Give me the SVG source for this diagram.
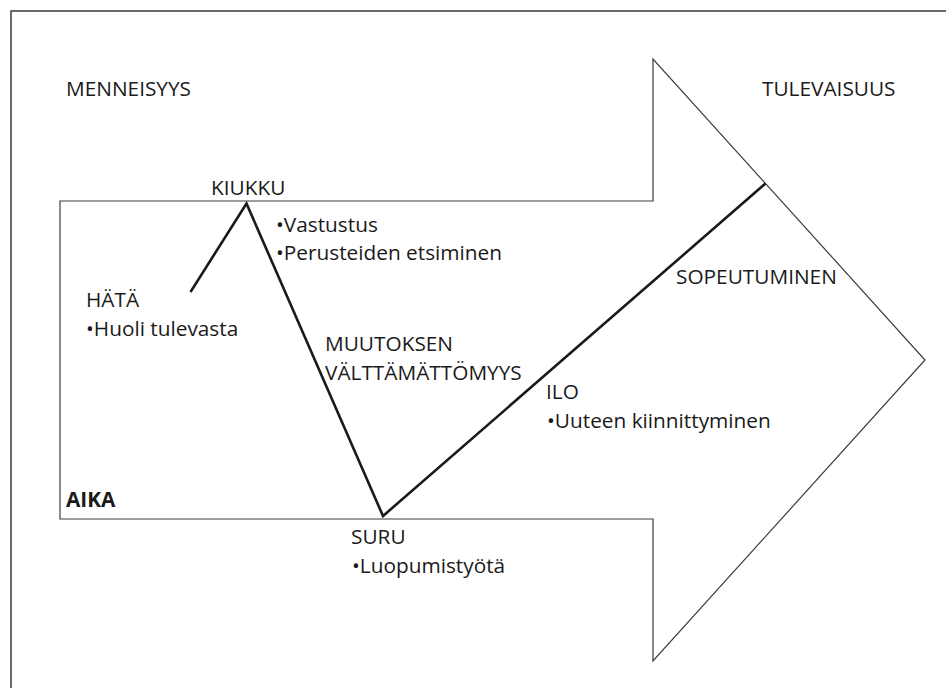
<svg xmlns="http://www.w3.org/2000/svg" width="946" height="688" viewBox="0 0 946 688">
  <style>
    .lbl { font-family: "Open Sans", "Liberation Sans", sans-serif; font-size: 20.8px; fill: #1a1a1a; }
    .bold { font-weight: bold; }
    .frame { stroke: #3a3a3a; stroke-width: 1.5; fill: none; }
    .arrow { stroke: #3c3c3c; stroke-width: 1.2; fill: #ffffff; stroke-linejoin: miter; }
    .curve { stroke: #1a1a1a; stroke-width: 2.6; fill: none; stroke-linejoin: miter; }
  </style>

  <rect width="946" height="688" fill="#ffffff"/>

  <!-- page frame (top and left edges) -->
  <g id="frame">
    <path class="frame" d="M11 688 V11 H946"/>
  </g>

  <!-- large block arrow: time axis -->
  <g id="time-arrow">
    <path class="arrow" d="M60 201 H653 V59 L925 360 L653 661 V519 H60 Z"/>
  </g>

  <!-- emotional curve through the phases -->
  <g id="connectors">
    <path class="curve" d="M190.5 292 L246.5 203.5 L383 516 L765.5 183.5"/>
  </g>

  <g id="past"><text class="lbl" x="66" y="96">MENNEISYYS</text></g>
  <g id="future"><text class="lbl" x="762" y="96">TULEVAISUUS</text></g>
  <g id="time"><text class="lbl bold" x="66" y="507">AIKA</text></g>

  <g id="kiukku">
    <text class="lbl" x="211" y="195">KIUKKU</text>
    <text class="lbl" x="276" y="232">•Vastustus</text>
    <text class="lbl" x="276" y="260">•Perusteiden etsiminen</text>
  </g>

  <g id="hata">
    <text class="lbl" x="86" y="307">HÄTÄ</text>
    <text class="lbl" x="86" y="336">•Huoli tulevasta</text>
  </g>

  <g id="muutos">
    <text class="lbl" x="325" y="351">MUUTOKSEN</text>
    <text class="lbl" x="325" y="380">VÄLTTÄMÄTTÖMYYS</text>
  </g>

  <g id="suru">
    <text class="lbl" x="351" y="544">SURU</text>
    <text class="lbl" x="352" y="573">•Luopumistyötä</text>
  </g>

  <g id="ilo">
    <text class="lbl" x="546" y="399">ILO</text>
    <text class="lbl" x="547" y="428">•Uuteen kiinnittyminen</text>
  </g>

  <g id="sopeutuminen"><text class="lbl" x="676" y="284">SOPEUTUMINEN</text></g>
</svg>
